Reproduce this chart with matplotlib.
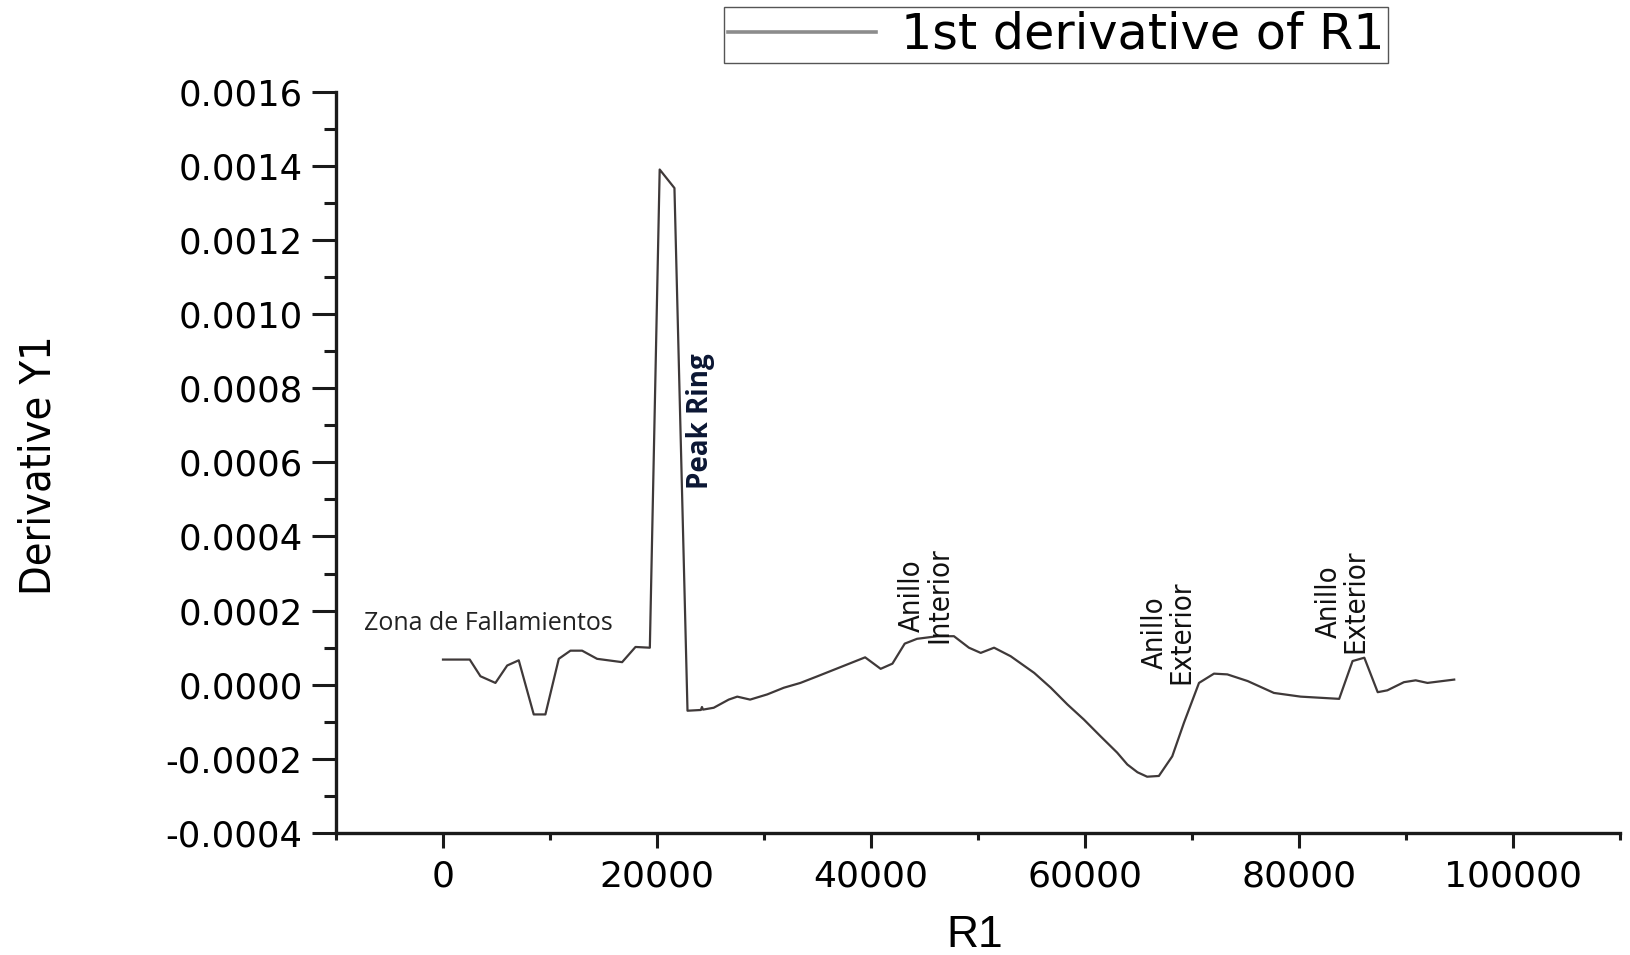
import matplotlib
matplotlib.use("Agg")
import matplotlib.pyplot as plt
from matplotlib import font_manager
from matplotlib.lines import Line2D
from matplotlib.ticker import MultipleLocator, FormatStrFormatter

# Radial distance and first derivative of the profile
r1 = [0, 2500, 3500, 4900, 6000, 7080, 8480, 9570, 10820, 11910, 13000,
      14400, 16740, 17990, 19330, 20250, 21630, 22850, 24100, 24200, 24300,
      25300, 26700, 27500, 28700, 30300, 31850, 33400, 35000, 39450, 40900,
      42000, 43150, 44300, 46200, 47750, 49150, 50250, 51500, 53050, 55250,
      56800, 58350, 59900, 61450, 63000, 63950, 64900, 65800, 66900, 68150,
      69250, 70650, 72050, 73300, 75200, 77650, 80150, 83750, 85000, 86100,
      87350, 88250, 89800, 90900, 92000, 94500]
deriv_y1 = [0.000068, 0.000068, 0.000023, 0.000005, 0.000052, 0.000066,
            -0.00008, -0.00008, 0.00007, 0.000092, 0.000092, 0.00007,
            0.000061, 0.000102, 0.0001, 0.00139, 0.00134, -0.00007,
            -0.000068, -0.00006, -0.000067, -0.000062, -0.00004, -0.000032,
            -0.00004, -0.000026, -0.000008, 0.000005, 0.000023, 0.000074,
            0.000043, 0.000057, 0.000111, 0.000124, 0.000131, 0.000131,
            0.0001, 0.000086, 0.0001, 0.000077, 0.000032, -0.000008,
            -0.000053, -0.000094, -0.000139, -0.000183, -0.000215,
            -0.000236, -0.000248, -0.000246, -0.000193, -0.000102, 0.000005,
            0.00003, 0.000028, 0.00001, -0.000022, -0.000032, -0.000038,
            0.000064, 0.000073, -0.00002, -0.000015, 0.000007, 0.000012,
            0.000005, 0.000014]

legend_label = "1st derivative of R1"
x_label = "R1"
y_label = "Derivative Y1"

# Feature labels: (text, x, y)
zone_label = ("Zona de Fallamientos", -7350, 0.000165)
peak_label = ("Peak Ring", 24070, 0.00071)
ring_labels = [("Anillo\nInterior", 45110, 0.000241),
               ("Anillo\nExterior", 67730, 0.000141),
               ("Anillo\nExterior", 84000, 0.000225)]

plt.rcParams["axes.unicode_minus"] = False
plt.rcParams["font.family"] = ["DejaVu Sans"]

available = {f.name for f in font_manager.fontManager.ttflist}
if "Liberation Sans Narrow" in available:
    narrow = dict(family="Liberation Sans Narrow")
else:
    narrow = dict(family="DejaVu Sans", stretch="condensed")

fig = plt.figure(figsize=(16.31, 9.55), dpi=100)
ax = fig.add_axes([0.206, 0.1277, 0.7873, 0.7763])

ax.plot(r1, deriv_y1, color="#3f3939", lw=1.6)

ax.set_xlim(-10000, 110000)
ax.set_ylim(-0.0004, 0.0016)
ax.xaxis.set_major_locator(MultipleLocator(20000))
ax.xaxis.set_minor_locator(MultipleLocator(10000))
ax.yaxis.set_major_locator(MultipleLocator(0.0002))
ax.yaxis.set_minor_locator(MultipleLocator(0.0001))
ax.yaxis.set_major_formatter(FormatStrFormatter("%.4f"))

for side in ("top", "right"):
    ax.spines[side].set_visible(False)
for side in ("left", "bottom"):
    ax.spines[side].set_linewidth(2.4)
    ax.spines[side].set_color("#1a1a1a")

ax.tick_params(axis="x", which="major", direction="out", length=11, width=2.2,
               pad=8, labelsize=26, color="#1a1a1a")
ax.tick_params(axis="x", which="minor", direction="out", length=5, width=2.2,
               color="#1a1a1a")
ax.tick_params(axis="y", which="major", direction="out", length=17, width=2.2,
               pad=7, labelsize=25.5, color="#1a1a1a")
ax.tick_params(axis="y", which="minor", direction="out", length=9, width=2.2,
               color="#1a1a1a")

ax.set_xlabel(x_label, fontsize=32, family="Liberation Sans")
ax.xaxis.set_label_coords(0.4977, -0.1106)
ax.xaxis.label.set_va("top")
ax.set_ylabel(y_label, fontsize=31, **narrow)
ax.yaxis.set_label_coords(-0.215, 0.496)

ax.text(zone_label[1], zone_label[2], zone_label[0], ha="left", va="center",
        fontsize=18, family="Open Sans", color="#222222")
ax.text(peak_label[1], peak_label[2], peak_label[0], ha="center", va="center",
        rotation=90, fontsize=20, family="Open Sans", fontweight="bold",
        color="#0b1633")
for text, x, y in ring_labels:
    ax.text(x, y, text, ha="center", va="center", rotation=90,
            multialignment="center", fontsize=21, color="#111111",
            linespacing=0.95, **narrow)

handle = Line2D([], [], color="#8c8c8c", lw=2.6)
fig.legend([handle], [legend_label], loc="upper left",
           bbox_to_anchor=(724 / 1631, 1 - 7 / 955), fontsize=35.5,
           frameon=True, fancybox=False, edgecolor="#555555", framealpha=1,
           borderpad=0.08, handlelength=3.0, handletextpad=0.5,
           borderaxespad=0)

fig.savefig("out.png", dpi=100)
